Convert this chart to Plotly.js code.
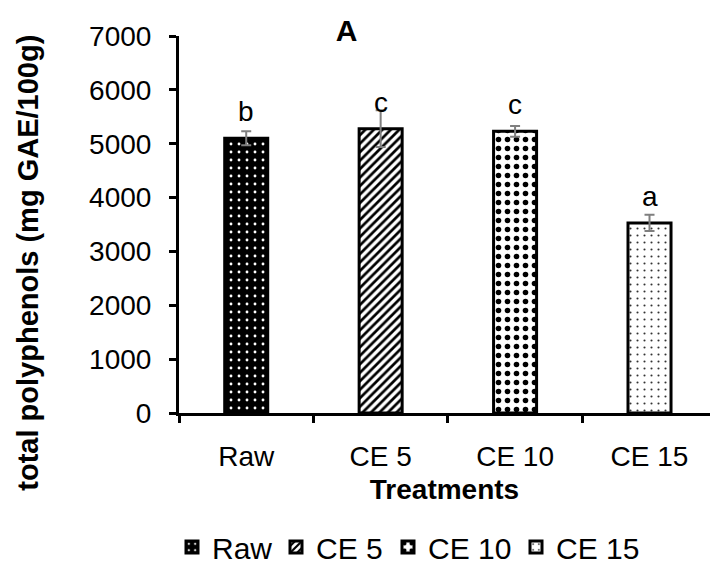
<!DOCTYPE html>
<html>
<head>
<meta charset="utf-8">
<script src="https://cdn.plot.ly/plotly-3.0.1.min.js"></script>
<style>
  html, body { margin: 0; padding: 0; background: #fff; }
  #chart { width: 710px; height: 564px; }
</style>
</head>
<body>
<div id="chart"></div>
<script>
// ---- data ----
var categories = ['Raw', 'CE 5', 'CE 10', 'CE 15'];
var values = [5100, 5280, 5230, 3530];
var errors = [130, 340, 100, 150];
var letters = ['b', 'c', 'c', 'a'];
var yTicks = [0, 1000, 2000, 3000, 4000, 5000, 6000, 7000];

// ---- styles ----
var patterns = [
  {shape: '.', bgcolor: '#000000', fgcolor: '#ffffff', size: 8, solidity: 0.1, fillmode: 'replace'},
  {shape: '/', bgcolor: '#ffffff', fgcolor: '#000000', size: 6, solidity: 0.45, fillmode: 'replace'},
  {shape: '.', bgcolor: '#ffffff', fgcolor: '#000000', size: 9, solidity: 0.3, fillmode: 'replace'},
  {shape: '.', bgcolor: '#ffffff', fgcolor: '#333333', size: 7, solidity: 0.07, fillmode: 'replace'}
];
var legendX = [172, 276, 388, 516]; // left edge of each legend box, px
var FONT = 'Liberation Sans, Arial, sans-serif';
var legendNames = ['legend', 'legend2', 'legend3', 'legend4'];

var traces = categories.map(function (c, i) {
  return {
    type: 'bar',
    name: c,
    x: [c],
    y: [values[i]],
    width: 0.32,
    legend: legendNames[i],
    marker: {
      color: patterns[i].bgcolor,
      pattern: patterns[i],
      line: {color: '#000000', width: 3}
    },
    error_y: {type: 'data', array: [errors[i]], visible: true, color: '#7f7f7f', thickness: 2, width: 5},
    hoverinfo: 'skip'
  };
});

var annotations = categories.map(function (c, i) {
  return {
    x: c, y: values[i], xref: 'x', yref: 'y',
    text: letters[i], showarrow: false,
    yanchor: 'bottom', yshift: 9,
    font: {family: FONT, size: 28, color: '#000'}
  };
});
annotations.push({
  xref: 'paper', yref: 'paper',
  x: (28.5 - 179) / 531, y: (412.7 - 263) / 376.7,
  xanchor: 'center', yanchor: 'middle', textangle: -90,
  text: '<b>total polyphenols (mg GAE/100g)</b>', showarrow: false,
  font: {family: FONT, size: 29, color: '#000'}
});

var layout = {
  width: 710, height: 564,
  margin: {l: 179, r: 0, t: 36, b: 151, pad: 0},
  paper_bgcolor: '#ffffff', plot_bgcolor: '#ffffff',
  font: {family: FONT, size: 28, color: '#000'},
  title: {
    text: '<b>A</b>', font: {family: FONT, size: 30, color: '#000'},
    x: 346.5 / 710, xanchor: 'center', xref: 'container',
    y: 1 - 30 / 564, yanchor: 'middle', yref: 'container'
  },
  barmode: 'overlay',
  showlegend: true,
  xaxis: {
    type: 'category', range: [-0.5, 3.45],
    showline: true, linecolor: '#000', linewidth: 3,
    ticks: 'outside', tickson: 'boundaries', ticklen: 7, tickwidth: 3, tickcolor: '#000',
    tickfont: {family: FONT, size: 28, color: '#000'},
    ticklabelstandoff: 16,
    showgrid: false, zeroline: false,
    title: {text: '<b>Treatments</b>', font: {family: FONT, size: 28, color: '#000'}, standoff: 9},
    automargin: false, fixedrange: true
  },
  yaxis: {
    range: [0, 7000], tickvals: yTicks,
    showline: true, linecolor: '#000', linewidth: 3,
    ticks: 'outside', ticklen: 7, tickwidth: 3, tickcolor: '#000',
    tickfont: {family: FONT, size: 28, color: '#000'},
    ticklabelstandoff: 12,
    showgrid: false, zeroline: false,
    automargin: false, fixedrange: true
  },
  annotations: annotations
};
legendNames.forEach(function (ln, i) {
  layout[ln] = {
    orientation: 'h', xref: 'container', yref: 'container',
    x: legendX[i] / 710, xanchor: 'left', y: 1 - 547 / 564, yanchor: 'middle',
    font: {family: FONT, size: 30, color: '#000'},
    itemwidth: 30, bgcolor: 'rgba(0,0,0,0)', borderwidth: 0
  };
});

Plotly.newPlot('chart', traces, layout, {displayModeBar: false, staticPlot: true});
</script>
</body>
</html>
